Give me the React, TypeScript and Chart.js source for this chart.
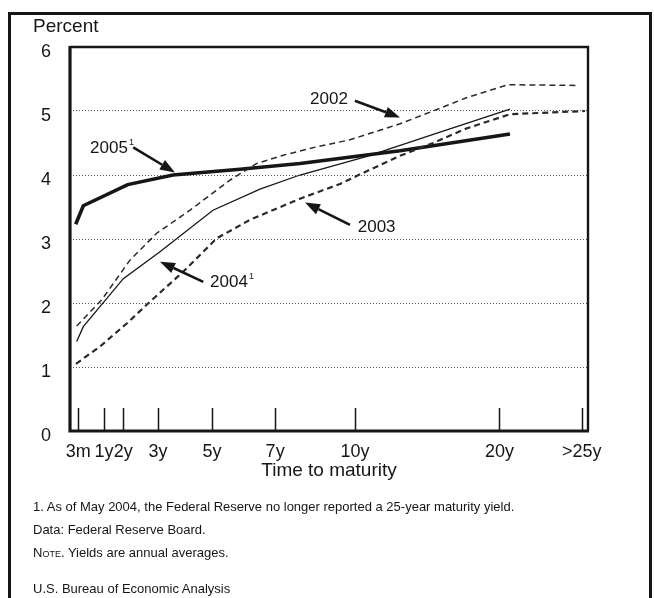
import React, { useEffect, useRef } from "react";
import { Chart, registerables } from "chart.js";

Chart.register(...registerables);

const FONT = "'Liberation Sans', Arial, Helvetica, sans-serif";
const INK = "#161616";

// x axis: positions of the maturity ticks on a 0–100 position scale
const tickLabels = ["3m", "1y", "2y", "3y", "5y", "7y", "10y", "20y", ">25y"];
const tickPositions = [1.6, 6.56, 10.3, 17.0, 27.4, 39.6, 55.0, 82.9, 98.8];

// yield curves (percent), x on the same position scale
const x2002 = [1.29, 6.12, 11.58, 16.74, 23.17, 30.89, 36.04, 41.18, 47.63, 54.05, 63.71, 70.08, 76.64, 84.56, 98.07];
const y2002 = [1.64, 2.05, 2.67, 3.09, 3.45, 3.92, 4.18, 4.31, 4.44, 4.55, 4.8, 5.0, 5.21, 5.41, 5.4];

const x2003 = [1.16, 5.79, 10.95, 15.44, 21.87, 28.32, 34.75, 44.4, 52.12, 55.98, 63.71, 70.08, 76.64, 84.94, 99.42];
const y2003 = [1.05, 1.32, 1.68, 2.02, 2.49, 3.01, 3.3, 3.63, 3.86, 4.01, 4.3, 4.5, 4.73, 4.95, 5.0];

const x2004 = [1.29, 2.57, 10.29, 17.37, 27.6, 36.68, 44.4, 57.34, 71.43, 84.94];
const y2004 = [1.4, 1.63, 2.38, 2.8, 3.45, 3.78, 4.0, 4.29, 4.67, 5.03];

const x2005 = [1.1, 2.57, 11.14, 19.88, 32.82, 44.4, 63.71, 84.94];
const y2005 = [3.23, 3.52, 3.85, 4.0, 4.09, 4.18, 4.38, 4.64];

const yTicks = [0, 1, 2, 3, 4, 5, 6];

// labels with arrows (text centre, arrow start, arrow tip) in data units
const annotations = [
  { text: "2002", sup: "", tx: 50.0, ty: 5.19, ax: 55.0, ay: 5.16, bx: 63.7, by: 4.9 },
  { text: "2005", sup: "1", tx: 7.53, ty: 4.42, ax: 12.2, ay: 4.43, bx: 20.27, by: 4.04 },
  { text: "2003", sup: "", tx: 59.2, ty: 3.18, ax: 54.05, ay: 3.22, bx: 45.37, by: 3.57 },
  { text: "2004", sup: "1", tx: 30.7, ty: 2.32, ax: 25.73, ay: 2.33, bx: 17.37, by: 2.645 },
];

const pts = (xs: number[], ys: number[]) => xs.map((x, i) => ({ x, y: ys[i] }));

function drawArrow(ctx: CanvasRenderingContext2D, x1: number, y1: number, x2: number, y2: number) {
  const ang = Math.atan2(y2 - y1, x2 - x1);
  const headLen = 15;
  const headW = 5.5;
  const bx = x2 - headLen * Math.cos(ang);
  const by = y2 - headLen * Math.sin(ang);
  ctx.lineWidth = 2.6;
  ctx.beginPath();
  ctx.moveTo(x1, y1);
  ctx.lineTo(bx, by);
  ctx.stroke();
  ctx.beginPath();
  ctx.moveTo(x2, y2);
  ctx.lineTo(bx + headW * Math.sin(ang), by - headW * Math.cos(ang));
  ctx.lineTo(bx - headW * Math.sin(ang), by + headW * Math.cos(ang));
  ctx.closePath();
  ctx.fill();
}

const framePlugin = {
  id: "framePlugin",
  afterDatasetsDraw(chart: any) {
    const { ctx, chartArea } = chart;
    const xs = chart.scales.x;
    const ys = chart.scales.y;
    const { left, right, top, bottom } = chartArea;
    ctx.save();
    ctx.strokeStyle = INK;
    ctx.fillStyle = INK;
    // tick marks inside the plot
    ctx.lineWidth = 1.5;
    tickPositions.forEach((v) => {
      const px = Math.round(xs.getPixelForValue(v)) + 0.5;
      ctx.beginPath();
      ctx.moveTo(px, bottom);
      ctx.lineTo(px, bottom - 23);
      ctx.stroke();
    });
    // frame
    ctx.lineWidth = 2.4;
    ctx.beginPath();
    ctx.moveTo(left, top);
    ctx.lineTo(right, top);
    ctx.lineTo(right, bottom);
    ctx.stroke();
    ctx.lineWidth = 3.2;
    ctx.beginPath();
    ctx.moveTo(left, top - 1);
    ctx.lineTo(left, bottom);
    ctx.lineTo(right + 1, bottom);
    ctx.stroke();
    // annotations
    annotations.forEach((a) => {
      const tx = xs.getPixelForValue(a.tx);
      const ty = ys.getPixelForValue(a.ty);
      ctx.font = `17px ${FONT}`;
      ctx.textAlign = "center";
      ctx.textBaseline = "middle";
      ctx.fillText(a.text, tx, ty);
      if (a.sup) {
        const w = ctx.measureText(a.text).width;
        ctx.font = `9px ${FONT}`;
        ctx.textAlign = "left";
        ctx.fillText(a.sup, tx + w / 2 + 1, ty - 6);
      }
      drawArrow(
        ctx,
        xs.getPixelForValue(a.ax),
        ys.getPixelForValue(a.ay),
        xs.getPixelForValue(a.bx),
        ys.getPixelForValue(a.by)
      );
    });
    ctx.restore();
  },
};

export default function App() {
  const ref = useRef<HTMLCanvasElement | null>(null);

  useEffect(() => {
    if (!ref.current) return;
    const chart = new Chart(ref.current, {
      type: "line",
      data: {
        datasets: [
          {
            label: "2002",
            data: pts(x2002, y2002),
            borderColor: "#2a2a2a",
            borderWidth: 1.5,
            borderDash: [6, 4],
            pointRadius: 0,
            tension: 0,
          },
          {
            label: "2003",
            data: pts(x2003, y2003),
            borderColor: "#2a2a2a",
            borderWidth: 2.2,
            borderDash: [6, 4],
            pointRadius: 0,
            tension: 0,
          },
          {
            label: "2004",
            data: pts(x2004, y2004),
            borderColor: INK,
            borderWidth: 1.3,
            pointRadius: 0,
            tension: 0,
          },
          {
            label: "2005",
            data: pts(x2005, y2005),
            borderColor: INK,
            borderWidth: 3.6,
            pointRadius: 0,
            tension: 0,
          },
        ],
      },
      options: {
        animation: false,
        responsive: false,
        layout: { padding: { left: 30, top: 47, right: 66, bottom: 112 } },
        plugins: {
          legend: { display: false },
          tooltip: { enabled: false },
          title: { display: false },
        },
        scales: {
          x: {
            type: "linear",
            min: 0,
            max: 100,
            afterBuildTicks: (axis: any) => {
              axis.ticks = tickPositions.map((v) => ({ value: v }));
            },
            afterFit: (s: any) => {
              s.height = 55;
            },
            grid: { display: false },
            border: { display: false },
            ticks: {
              autoSkip: false,
              maxRotation: 0,
              padding: 2,
              color: INK,
              font: { family: FONT, size: 18 },
              callback: (_v: any, i: number) => tickLabels[i],
            },
            title: {
              display: true,
              text: "Time to maturity",
              color: INK,
              font: { family: FONT, size: 19 },
              padding: { top: 4, bottom: 4 },
            },
          },
          y: {
            min: 0,
            max: 6,
            afterBuildTicks: (axis: any) => {
              axis.ticks = yTicks.map((v) => ({ value: v }));
            },
            afterFit: (s: any) => {
              s.width = 40;
            },
            grid: {
              drawTicks: false,
              lineWidth: 1,
              color: (c: any) =>
                c.tick && c.tick.value > 0 && c.tick.value < 6 ? "#555" : "rgba(0,0,0,0)",
            },
            border: { display: false, dash: [1, 2] },
            ticks: {
              padding: 19,
              labelOffset: 5,
              color: INK,
              font: { family: FONT, size: 18 },
            },
          },
        },
      },
      plugins: [framePlugin],
    } as any);
    return () => chart.destroy();
  }, []);

  const note: React.CSSProperties = {
    position: "absolute",
    left: 33,
    fontFamily: FONT,
    fontSize: 13,
    lineHeight: "13px",
    color: INK,
    whiteSpace: "nowrap",
  };

  return (
    <div style={{ position: "absolute", left: 0, top: 0, width: 654, height: 598, overflow: "hidden", background: "#fff" }}>
      <div
        style={{
          position: "absolute",
          left: 8,
          top: 12,
          width: 638,
          height: 640,
          border: `3px solid ${INK}`,
        }}
      />
      <canvas ref={ref} width={654} height={598} style={{ position: "absolute", left: 0, top: 0 }} />
      <div style={{ ...note, top: 16, fontSize: 19, lineHeight: "19px" }}>Percent</div>
      <div style={{ ...note, top: 500 }}>1. As of May 2004, the Federal Reserve no longer reported a 25-year maturity yield.</div>
      <div style={{ ...note, top: 523 }}>Data: Federal Reserve Board.</div>
      <div style={{ ...note, top: 546 }}>
        <span style={{ fontVariant: "small-caps" }}>Note</span>. Yields are annual averages.
      </div>
      <div style={{ ...note, top: 582 }}>U.S. Bureau of Economic Analysis</div>
    </div>
  );
}
